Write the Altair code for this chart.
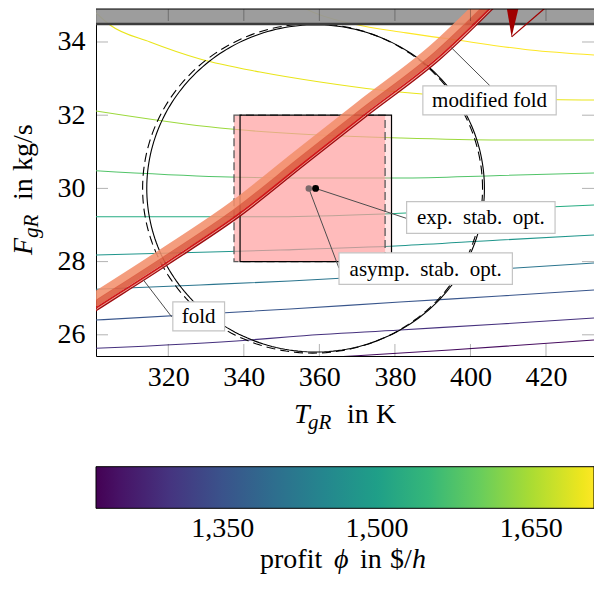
import altair as alt
import pandas as pd
import numpy as np

# ---------------- axis ranges / ticks ----------------
T_MIN, T_MAX = 300.86, 432.71
F_MIN, F_MAX = 25.4208, 34.9016
x_ticks = [320, 340, 360, 380, 400, 420]
y_ticks = [26, 28, 30, 32, 34]
cbar_ticks = [1350, 1500, 1650]
cbar_domain = [1226.8, 1711.0]

# ---------------- profit contour lines ----------------
contour_levels = [1711, 1695, 1640, 1580, 1525, 1480, 1415, 1355, 1295, 1240]
c0_T = [354.0, 356.64, 369.0, 383.0, 396.36, 415.77, 432.71]
c0_F = [35.05, 34.893, 34.49, 34.25, 34.055, 33.781, 33.645]
c1_T = [300.86, 304.57, 315.16, 328.39, 344.28, 360.17, 376.05, 394.58, 413.12, 432.71]
c1_F = [34.792, 34.464, 34.0, 33.536, 33.180, 32.907, 32.689, 32.525, 32.443, 32.415]
c2_T = [300.86, 333.69, 354.87, 381.35, 407.82, 432.71]
c2_F = [32.115, 31.650, 31.486, 31.377, 31.322, 31.322]
c3_T = [300.86, 333.69, 354.87, 381.35, 407.82, 432.71]
c3_F = [30.484, 30.320, 30.284, 30.284, 30.352, 30.421]
c4_T = [300.86, 349.58, 381.35, 407.82, 432.71]
c4_F = [29.227, 29.227, 29.320, 29.437, 29.546]
c5_T = [300.86, 333.69, 349.58, 381.35, 407.82, 432.71]
c5_F = [28.180, 28.270, 28.317, 28.434, 28.590, 28.727]
c6_T = [300.86, 328.39, 352.22, 381.35, 407.82, 432.71]
c6_F = [27.243, 27.361, 27.470, 27.634, 27.798, 27.962]
c7_T = [300.86, 352.22, 381.35, 407.82, 432.71]
c7_F = [26.404, 26.705, 26.896, 27.060, 27.224]
c8_T = [300.86, 341.63, 352.22, 381.35, 407.82, 432.71]
c8_F = [25.631, 25.858, 25.948, 26.131, 26.295, 26.459]
c9_T = [340.0, 369.96, 394.58, 432.71]
c9_F = [25.24, 25.429, 25.585, 25.858]
contour_T = [c0_T, c1_T, c2_T, c3_T, c4_T, c5_T, c6_T, c7_T, c8_T, c9_T]
contour_F = [c0_F, c1_F, c2_F, c3_F, c4_F, c5_F, c6_F, c7_F, c8_F, c9_F]

# ---------------- fold curve ----------------
fold_T = [298.0, 300.86, 320.0, 339.0, 356.0, 372.5, 391.9, 405.6, 408.5]
fold_F = [26.49, 26.68, 27.95, 29.27, 30.66, 32.0, 33.55, 34.9, 35.2]
# modified fold wedge (top right)
wedge_F = [34.14, 35.0]
wedge_T_left = [410.9, 409.5]
wedge_T_right = [410.9, 412.9]
modline_T = [410.9, 420.0]
modline_F = [34.14, 34.95]

# ---------------- optima, regions ----------------
exp_opt = (359.0, 30.0)
asy_opt = (357.2, 30.0)
rect_solid = (339.0, 379.1, 28.0, 32.0)
rect_dashed = (337.4, 377.4, 28.0, 32.0)
circ_solid = (359.0, 30.0, 4.47)
circ_dashed = (358.2, 30.0, 4.5)

# annotation boxes (T0, T1, F0, F1) and leader lines
NB = "\u00a0"
box_labels = ["exp." + NB + " stab." + NB + " opt.", "asymp." + NB + " stab." + NB + " opt.",
              "modified fold", "fold"]
box_T0 = [383.1, 365.2, 387.4, 321.2]
box_T1 = [422.4, 411.1, 422.7, 334.9]
box_F0 = [28.77, 27.38, 32.01, 26.11]
box_F1 = [29.64, 28.24, 32.80, 26.90]
lead_T0 = [359.0, 357.2, 405.2, 320.9]
lead_F0 = [30.0, 30.0, 32.80, 26.49]
lead_T1 = [383.1, 365.2, 395.0, 313.4]
lead_F1 = [29.18, 27.82, 33.84, 27.50]

FONT = "Liberation Serif"
OX, OY = 96, 9      # plot origin in page pixels
W, H = 498, 347

xs = alt.Scale(domain=[T_MIN, T_MAX], nice=False, zero=False)
ys = alt.Scale(domain=[F_MIN, F_MAX], nice=False, zero=False)
x_axis = alt.Axis(title=None, values=x_ticks, ticks=False, grid=False, labelFont=FONT,
                  labelFontSize=28, labelPadding=7, labelColor="black", domainColor="black",
                  domainWidth=1, format="d", labelFlush=False)
y_axis = alt.Axis(title=None, values=y_ticks, ticks=False, grid=False, labelFont=FONT,
                  labelFontSize=28, labelPadding=11, labelColor="black", domainColor="black",
                  domainWidth=1, format="d", labelFlush=False)


def X(f):
    return alt.X(f, type="quantitative", scale=xs, axis=x_axis)


def Y(f):
    return alt.Y(f, type="quantitative", scale=ys, axis=y_axis)


# contour table
rows = []
for lev, Ts, Fs in zip(contour_levels, contour_T, contour_F):
    for i, (t, f) in enumerate(zip(Ts, Fs)):
        rows.append({"level": lev, "T": t, "F": f, "i": i})
df_c = pd.DataFrame(rows)

CB_Y = 457.7
CB_TH = 41.6
CB_LEN = 498
contours = alt.Chart(df_c).mark_line(strokeWidth=1.1, clip=True, interpolate="monotone").encode(
    x=X("T"), y=Y("F"), detail="level:N", order="i:Q",
    color=alt.Color("level:Q", scale=alt.Scale(scheme="viridis", domain=cbar_domain),
                    legend=alt.Legend(values=cbar_ticks, format=",d", title=None,
                                      direction="horizontal", orient="none",
                                      legendX=0, legendY=CB_Y, gradientLength=CB_LEN,
                                      gradientThickness=CB_TH, labelFont=FONT,
                                      labelFontSize=28, labelOffset=7, labelColor="black",
                                      gradientStrokeColor="black", gradientStrokeWidth=1,
                                      padding=0)))

# rectangles
df_rd = pd.DataFrame([{"t0": rect_dashed[0], "t1": rect_dashed[1], "f0": rect_dashed[2], "f1": rect_dashed[3]}])
df_rs = pd.DataFrame([{"t0": rect_solid[0], "t1": rect_solid[1], "f0": rect_solid[2], "f1": rect_solid[3]}])
fill_d = alt.Chart(df_rd).mark_rect(color="#ff9f9f", opacity=0.6).encode(x=X("t0"), x2="t1", y=Y("f0"), y2="f1")
fill_s = alt.Chart(df_rs).mark_rect(color="#ff9f9f", opacity=0.25).encode(x=X("t0"), x2="t1", y=Y("f0"), y2="f1")
out_d = alt.Chart(df_rd).mark_rect(fill=None, fillOpacity=0, stroke="#5a5a5a", strokeWidth=1.3,
                                   strokeDash=[8, 4]).encode(x=X("t0"), x2="t1", y=Y("f0"), y2="f1")
out_s = alt.Chart(df_rs).mark_rect(fill=None, fillOpacity=0, stroke="black", strokeWidth=1.2).encode(
    x=X("t0"), x2="t1", y=Y("f0"), y2="f1")

# circles (ellipses in data units: T scaled by 10)
ang = np.linspace(0, 2 * np.pi, 241)


def circle_df(c):
    return pd.DataFrame({"T": c[0] + 10 * c[2] * np.cos(ang), "F": c[1] + c[2] * np.sin(ang),
                         "i": np.arange(len(ang))})


circ_s = alt.Chart(circle_df(circ_solid)).mark_line(color="black", strokeWidth=1.1, clip=True).encode(
    x=X("T"), y=Y("F"), order="i:Q")
circ_d = alt.Chart(circle_df(circ_dashed)).mark_line(color="black", strokeWidth=1.1, clip=True,
                                                     strokeDash=[9, 5]).encode(
    x=X("T"), y=Y("F"), order="i:Q")

# gray band at top
df_band = pd.DataFrame([{"t0": T_MIN, "t1": T_MAX, "f0": 34.49, "f1": F_MAX}])
gray_band = alt.Chart(df_band).mark_rect(color="#969696", opacity=0.93).encode(
    x=X("t0"), x2="t1", y=Y("f0"), y2="f1")
gray_line = alt.Chart(df_band).mark_rule(color="#3c3c3c", strokeWidth=2.4).encode(
    x=X("t0"), x2="t1", y=Y("f0"))
top_line = alt.Chart(df_band).mark_rule(color="black", strokeWidth=1.2).encode(
    x=X("t0"), x2="t1", y=Y("f1"))

# fold band layers (offset perpendicular to curve, in pixels)
fT = np.array(fold_T)
fF = np.array(fold_F)


def offset_df(d):
    return pd.DataFrame({"T": fT - 0.59 * d / 3.777, "F": fF + 0.81 * d / 36.6,
                         "i": np.arange(len(fT))})


def fold_layer(d, color, width, op=1.0):
    return alt.Chart(offset_df(d)).mark_line(color=color, strokeWidth=width, clip=True,
                                             interpolate="monotone", opacity=op).encode(
        x=X("T"), y=Y("F"), order="i:Q")


fold_outer = fold_layer(12.0, "#f2906c", 8.5, 0.88)
fold_inner = fold_layer(5.5, "#dc5e42", 6.2, 0.92)
fold_pale = fold_layer(0.3, "#f4b09c", 1.0)
fold_red = fold_layer(1.6, "#d01818", 1.8)
fold_dark = fold_layer(-0.7, "#9e0b0f", 1.4)

df_w = pd.DataFrame({"F": wedge_F, "TL": wedge_T_left, "TR": wedge_T_right})
wedge = alt.Chart(df_w).mark_area(color="#a00000", orient="horizontal", clip=True).encode(
    y=Y("F"), x=X("TL"), x2="TR")
df_ml = pd.DataFrame({"T": modline_T, "F": modline_F})
modline = alt.Chart(df_ml).mark_line(color="#a00000", strokeWidth=1.3, clip=True).encode(
    x=X("T"), y=Y("F"))

# inward ticks
tick_len_F = 12 / 36.6
tick_len_T = 12 / 3.777
tx = []
for v in x_ticks:
    tx.append({"t0": v, "f0": F_MIN, "f1": F_MIN + tick_len_F})
    tx.append({"t0": v, "f0": F_MAX - tick_len_F, "f1": F_MAX})
ty = []
for v in y_ticks:
    ty.append({"f0": v, "t0": T_MIN, "t1": T_MIN + tick_len_T})
    ty.append({"f0": v, "t0": T_MAX - tick_len_T, "t1": T_MAX})
ticks_x = alt.Chart(pd.DataFrame(tx)).mark_rule(color="black", opacity=0.3, strokeWidth=1).encode(
    x=X("t0"), y=Y("f0"), y2="f1")
ticks_y = alt.Chart(pd.DataFrame(ty)).mark_rule(color="black", opacity=0.3, strokeWidth=1).encode(
    y=Y("f0"), x=X("t0"), x2="t1")

# leaders
df_lead = pd.DataFrame({"t0": lead_T0, "f0": lead_F0, "t1": lead_T1, "f1": lead_F1})
leaders = alt.Chart(df_lead).mark_rule(color="#4d4d4d", strokeWidth=1).encode(
    x=X("t0"), y=Y("f0"), x2="t1", y2="f1")

# optima points
pt_asy = alt.Chart(pd.DataFrame([{"T": asy_opt[0], "F": asy_opt[1]}])).mark_point(
    shape="circle", filled=True, size=42, color="#7d6a6c", opacity=1).encode(x=X("T"), y=Y("F"))
pt_exp = alt.Chart(pd.DataFrame([{"T": exp_opt[0], "F": exp_opt[1]}])).mark_point(
    shape="circle", filled=True, size=48, color="black", opacity=1).encode(x=X("T"), y=Y("F"))

# boxes
df_box = pd.DataFrame({"label": box_labels, "t0": box_T0, "t1": box_T1, "f0": box_F0, "f1": box_F1})
df_box["tc"] = (df_box["t0"] + df_box["t1"]) / 2
df_box["fc"] = (df_box["f0"] + df_box["f1"]) / 2
boxes = alt.Chart(df_box).mark_rect(fill="white", stroke="#c4c4c4", strokeWidth=1.2).encode(
    x=X("t0"), x2="t1", y=Y("f0"), y2="f1")
box_text = alt.Chart(df_box).mark_text(font=FONT, fontSize=21, color="black", baseline="middle",
                                       dy=1).encode(x=X("tc"), y=Y("fc"), text="label:N")

# title pieces (page pixel positions)
title_text = ["T", "gR", "in", "K", "F", "gR", "in", "kg/s", "profit", "ϕ", "in", "$/", "h"]
title_px = [294, 308, 347, 376, 31.7, 37.5, 31.7, 31.7, 260, 334, 360, 390, 412]
title_py = [423.3, 428.5, 423.3, 423.3, 255, 238, 200, 171, 568, 568, 568, 568, 568]
title_size = [28, 21, 28, 28, 28, 21, 28, 28, 28, 28, 28, 28, 28]
title_italic = [True, True, False, False, True, True, False, False, False, True, False, False, True]
title_angle = [0, 0, 0, 0, 270, 270, 270, 270, 0, 0, 0, 0, 0]

title_layers = []
for t, px, py, sz, it, an in zip(title_text, title_px, title_py, title_size, title_italic, title_angle):
    kw = dict(font=FONT, fontSize=sz, color="black", align="left", baseline="alphabetic")
    if it:
        kw["fontStyle"] = "italic"
    if an:
        kw["angle"] = an
    title_layers.append(alt.Chart(pd.DataFrame([{"s": t}])).mark_text(**kw).encode(
        x=alt.value(px - OX), y=alt.value(py - OY), text="s:N"))

chart = alt.layer(
    contours, fill_d, fill_s, out_d, out_s, circ_s, circ_d,
    gray_band, gray_line,
    fold_outer, fold_inner, fold_pale, fold_red, fold_dark, wedge, modline,
    ticks_x, ticks_y, top_line, leaders, pt_asy, pt_exp, boxes, box_text,
    *title_layers
).properties(
    width=W, height=H,
    autosize=alt.AutoSizeParams(type="none"),
    padding={"left": OX, "top": OY, "right": 0, "bottom": 590 - OY - H},
).configure_view(stroke=None).configure(background="white")

chart.save("out.html", embed_options={"renderer": "svg", "actions": False})
